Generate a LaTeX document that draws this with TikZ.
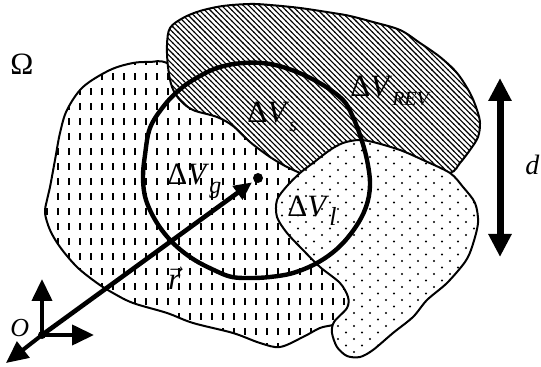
\documentclass[tikz,border=0pt]{standalone}
\usepackage{fontspec}
\setmainfont{Liberation Serif}
\usetikzlibrary{arrows.meta,patterns}
% fills of the three volumes
\pgfdeclarepatternformonly{vdashes}{\pgfqpoint{-1pt}{-1pt}}{\pgfqpoint{6.5pt}{8.5pt}}{\pgfqpoint{5.5pt}{7.5pt}}{%
  \pgfpathrectangle{\pgfqpoint{1pt}{1pt}}{\pgfqpoint{1.2pt}{3.5pt}}%
  \pgfusepath{fill}}
\pgfdeclarepatternformonly{nwhatch}{\pgfqpoint{-1pt}{-1pt}}{\pgfqpoint{3.7pt}{3.7pt}}{\pgfqpoint{2.7pt}{2.7pt}}{%
  \pgfsetlinewidth{0.55pt}%
  \pgfpathmoveto{\pgfqpoint{-0.2pt}{2.9pt}}%
  \pgfpathlineto{\pgfqpoint{2.9pt}{-0.2pt}}%
  \pgfusepath{stroke}}
\pgfdeclarepatternformonly{sdots}{\pgfqpoint{-1pt}{-1pt}}{\pgfqpoint{9pt}{8pt}}{\pgfqpoint{8pt}{6.5pt}}{%
  \pgfpathcircle{\pgfqpoint{1pt}{1pt}}{0.55pt}%
  \pgfpathcircle{\pgfqpoint{5pt}{4.25pt}}{0.55pt}%
  \pgfusepath{fill}}
\newcommand{\dV}[2][10]{Δ\textit{V}\raisebox{-4.5pt}{\fontsize{#1}{#1}\selectfont\textit{#2}}}
\tikzset{
  region/.style={draw=black, line width=1pt, preaction={fill=white}},
  dashreg/.style={region, pattern=vdashes},
  hatchreg/.style={region, pattern=nwhatch},
  dotreg/.style={region, pattern=sdots},
  sphere/.style={draw=black, line width=2.2pt},
  lbl/.style={inner sep=0pt, anchor=base west, font=\fontsize{15.5}{16}\selectfont},
  ptdot/.style={circle, fill=black, inner sep=0pt, minimum size=5pt},
  posvec/.style={line width=2.3pt, -{Triangle[length=9pt,width=8pt]}, shorten >=1pt},
  axis/.style={line width=2pt, -{Triangle[length=11pt,width=10pt]}},
  span/.style={line width=3.5pt, {Triangle[length=11.5pt,width=11pt]}-{Triangle[length=11.5pt,width=11pt]}}
}
\begin{document}
\begin{tikzpicture}[x=0.5pt, y=-0.5pt]
 \useasboundingbox (0,0) rectangle (541,367);
 % volumes
 \draw[dashreg] plot[smooth cycle, tension=0.55] coordinates {
   (133,63) (150,62) (167,63) (205,85) (285,145) (325,190) (350,230) (365,290) (350,320)
   (333,325) (320,328) (303,337) (280,347) (260,343) (233,333) (193,323) (167,313) (133,303)
   (113,293) (97,283) (77,267) (60,247) (50,230) (45,213) (47,200) (50,187) (55,160) (60,133)
   (67,110) (83,87) (110,70)};
 \draw[hatchreg] plot[smooth cycle, tension=0.55] coordinates {
   (170,28) (183,18) (200,11) (223,6) (250,4) (270,5) (300,8) (333,13) (350,16) (373,22)
   (400,30) (420,43) (440,57) (457,73) (470,93) (477,110) (480,123) (478,137) (470,150)
   (460,163) (450,173) (420,175) (360,165) (310,178) (300,173) (287,167) (270,157) (250,142)
   (233,126) (217,117) (193,110) (180,100) (172,87) (168,67) (167,45)};
 \draw[dotreg] plot[smooth cycle, tension=0.5] coordinates {
   (300,173) (313,163) (330,150) (343,143) (358,140) (373,142) (400,150) (423,160) (450,173)
   (463,187) (475,203) (478,223) (472,247) (465,262) (447,283) (427,300) (413,317) (393,333)
   (373,350) (360,357) (347,356) (337,347) (332,333) (334,322) (347,308) (348,297) (340,283)
   (320,267) (303,250) (287,233) (277,217) (277,200) (287,186)};
 % averaging sphere
 \draw[sphere] plot[smooth cycle, tension=0.6] coordinates {
   (243,63) (270,64) (297,72) (323,85) (343,100) (352,115) (360,135) (367,160) (370,185)
   (366,207) (355,228) (338,248) (317,263) (293,273) (270,277) (250,278) (232,277) (216,271)
   (193,259) (173,243) (157,223) (146,200) (143,178) (145,155) (150,128) (163,107) (177,92)
   (193,80) (217,68)};
 % frame and position
 \node[ptdot, minimum size=4pt] (O) at (42,335) {};
 \node[ptdot] (P) at (258,178) {};
 \coordinate (xtip) at (94,335);
 \coordinate (ytip) at (42,279);
 \coordinate (ztip) at (6,363);
 \draw[axis] (O.center) -- (xtip);
 \draw[axis] (O.center) -- (ytip);
 \draw[axis] (O.center) -- (ztip);
 \draw[posvec] (O.center) -- (P);
 % size of the volume
 \coordinate (dtop) at (500,78);
 \coordinate (dbot) at (500,257);
 \draw[span] (dtop) -- (dbot);
 % labels
 \node[lbl] (omega) at (10,75) {Ω};
 \node[lbl] (vrev) at (350,97) {\dV{REV}};
 \node[lbl] (vs) at (247,123) {\dV{s}};
 \node[lbl] (vg) at (167,185) {\dV[12]{g}};
 \node[lbl] (vl) at (287,217) {\dV[13]{l}};
 \node[lbl] (rlab) at (168,290) {$\vec{\textit{r}}$};
 \node[lbl, font=\fontsize{13}{13}\selectfont\itshape] (olab) at (10,337) {O};
 \node[lbl, font=\fontsize{14}{14}\selectfont\itshape] (dlab) at (525,175) {d};
\end{tikzpicture}
\end{document}
